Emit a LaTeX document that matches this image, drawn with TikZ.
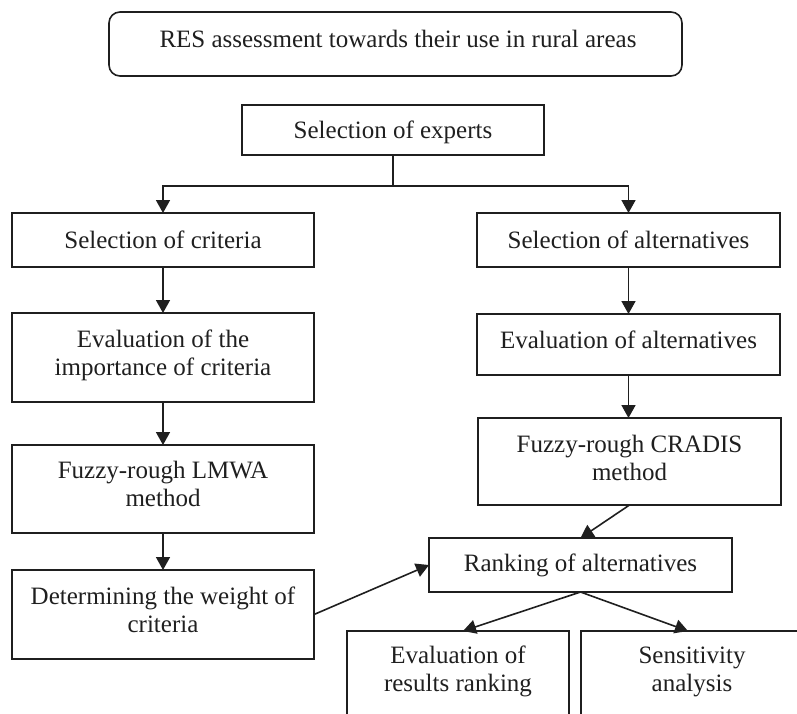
\documentclass[tikz,border=0pt]{standalone}
\usepackage{fontspec}
\setmainfont{Liberation Serif}
\usetikzlibrary{arrows.meta}
\newcommand{\upby}[2]{\raisebox{#1}[\height][\depth]{#2}}
\newcommand{\twolines}[3]{\raisebox{#1}[\height][\depth]{\begin{tabular}{@{}c@{}}#2\\#3\end{tabular}}}
\tikzset{
  box/.style={draw=black!88, line width=1.6pt, rectangle, inner sep=0pt, outer sep=0pt,
    align=center, font=\fontsize{25}{28}\selectfont, text=black!88},
  sl/.style={box, text depth=0pt},
  arr/.style={line width=1.6pt, draw=black!88, -{Triangle[length=13pt,width=14pt]}},
  ln/.style={line width=1.6pt, draw=black!88}
}
\begin{document}
\begin{tikzpicture}[x=1pt,y=-1pt]
\useasboundingbox (0,0) rectangle (797,713);
\clip (0,0) rectangle (797,713);
\node[sl, rounded corners=11pt, minimum width=573pt, minimum height=64pt] (top) at (395.5,44) {\upby{5.5pt}{\hspace{2.5pt}RES assessment towards their use in rural areas\hspace{-2.5pt}}};
\node[sl, minimum width=302pt, minimum height=50pt] (exp) at (393,130) {Selection of experts};
\node[sl, minimum width=302pt, minimum height=54pt] (crit) at (163,240) {Selection of criteria};
\node[box, minimum width=302pt, minimum height=89pt] (imp) at (163,357.5) {\twolines{2pt}{Evaluation of the}{importance of criteria}};
\node[box, minimum width=302pt, minimum height=88pt] (lmwa) at (163,489) {\twolines{2pt}{Fuzzy-rough LMWA}{method}};
\node[box, minimum width=302pt, minimum height=89pt] (det) at (163,614.5) {\twolines{2pt}{Determining the weight of}{criteria}};
\node[sl, minimum width=303pt, minimum height=54pt] (salt) at (628.5,240) {Selection of alternatives};
\node[sl, minimum width=303pt, minimum height=61pt] (ealt) at (628.5,344.5) {\upby{5pt}{Evaluation of alternatives}};
\node[box, minimum width=303pt, minimum height=87pt] (cradis) at (629.5,461.5) {\twolines{1pt}{Fuzzy-rough CRADIS}{method}};
\node[sl, minimum width=303pt, minimum height=54pt] (rank) at (580.5,565) {\upby{2.5pt}{Ranking of alternatives}};
\node[box, minimum width=222pt, minimum height=88pt] (evr) at (458,675) {\twolines{3.6pt}{Evaluation of}{results ranking}};
\node[box, minimum width=222pt, minimum height=88pt] (sens) at (692,675) {\twolines{3.6pt}{Sensitivity}{analysis}};
\coordinate (j) at (393,186);
\draw[ln] (exp.south) -- (j);
\draw[arr] (j) -| (crit.north);
\draw[arr] (j) -| (salt.north);
\draw[arr] (crit) -- (imp);
\draw[arr] (imp) -- (lmwa);
\draw[arr] (lmwa) -- (det);
\draw[arr] (salt) -- (ealt);
\draw[arr] (ealt.south) -- (ealt.south |- cradis.north);
\draw[arr] (cradis.south) -- (rank.north);
\draw[arr] (det.east) -- (rank.west);
\draw[arr] (rank.south) -- ([xshift=5pt]evr.north);
\draw[arr] (rank.south) -- ([xshift=-4pt]sens.north);
\end{tikzpicture}
\end{document}
